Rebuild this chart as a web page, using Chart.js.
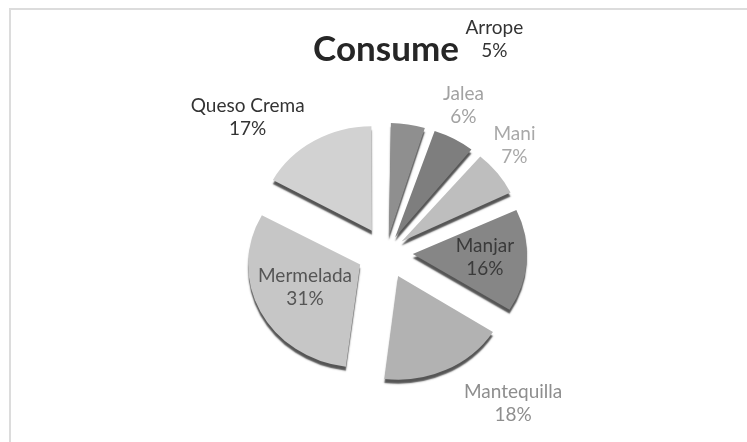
<!DOCTYPE html>
<html>
<head>
<meta charset="utf-8">
<script src="https://cdn.jsdelivr.net/npm/chart.js@4.4.0/dist/chart.umd.min.js"></script>
<style>
  html, body { margin: 0; padding: 0; background: #fff; }
  #wrap { width: 747px; height: 442px; position: relative; }
</style>
</head>
<body>
<div id="wrap"><canvas id="consumeChart"></canvas></div>
<script>
const categories = ["Arrope", "Jalea", "Mani", "Manjar", "Mantequilla", "Mermelada", "Queso Crema"];
const shares = [5, 6, 7, 16, 18, 31, 17];
const sliceColors = ["#8f8f8f", "#7e7e7e", "#bebebe", "#868686", "#b2b2b2", "#c6c6c6", "#d2d2d2"];
const labelColors = ["#333333", "#a2a2a2", "#a8a8a8", "#3a3a3a", "#8e8e8e", "#555555", "#333333"];
// label spot: turn (deg) away from the slice middle, distance in radii
const labelPlacement = [
  { turn: 18, dist: 2.17 },
  { turn: -1, dist: 1.51 },
  { turn: -2, dist: 1.52 },
  { turn: -1, dist: 0.90 },
  { turn: -15, dist: 1.79 },
  { turn: 4, dist: 0.80 },
  { turn: -15, dist: 1.76 }
];
const explode = 31; // px every slice is pulled out

const frame = {
  id: "frame",
  beforeDraw(chart) {
    const ctx = chart.ctx;
    ctx.save();
    ctx.strokeStyle = "#dcdcdc";
    ctx.lineWidth = 2;
    ctx.beginPath();
    ctx.moveTo(10, 442);
    ctx.lineTo(10, 9);
    ctx.lineTo(747, 9);
    ctx.stroke();
    ctx.restore();
  }
};

// flatten the pie a bit and give it a thin dark rim underneath
const tilt = {
  id: "tilt",
  beforeDatasetsDraw(chart) {
    const arc = chart.getDatasetMeta(0).data[0];
    const ctx = chart.ctx;
    ctx.save();
    ctx.translate(arc.x, arc.y);
    ctx.scale(1, 0.92);
    ctx.translate(-arc.x, -arc.y);
    ctx.shadowColor = "rgba(55,55,55,0.85)";
    ctx.shadowOffsetY = 4;
    ctx.shadowBlur = 1.5;
  },
  afterDatasetsDraw(chart) {
    chart.ctx.restore();
  }
};

const sliceLabels = {
  id: "sliceLabels",
  afterDraw(chart) {
    const ctx = chart.ctx;
    const total = shares.reduce((a, b) => a + b, 0);
    ctx.save();
    ctx.font = "19px Lato";
    ctx.textAlign = "center";
    ctx.textBaseline = "middle";
    chart.getDatasetMeta(0).data.forEach((arc, i) => {
      const p = labelPlacement[i];
      const a = (arc.startAngle + arc.endAngle) / 2 + p.turn * Math.PI / 180;
      const d = arc.outerRadius * p.dist;
      const x = arc.x + Math.cos(a) * d;
      const y = arc.y + Math.sin(a) * d;
      ctx.fillStyle = labelColors[i];
      ctx.fillText(categories[i], x, y - 11.5);
      ctx.fillText(Math.round(shares[i] / total * 100) + "%", x, y + 11.5);
    });
    ctx.restore();
  }
};

// Chart.js v4 moves an arc by offset/4 * (2 - sin(angle)); undo that so all slices move the same
function sliceOffset(c) {
  const total = shares.reduce((a, b) => a + b, 0);
  const angle = shares[c.dataIndex] / total * 2 * Math.PI;
  const fix = 1 - Math.sin(Math.min(Math.PI, angle));
  return explode * 4 / (1 + fix);
}

new Chart(document.getElementById("consumeChart"), {
  type: "pie",
  data: {
    labels: categories,
    datasets: [{
      data: shares,
      backgroundColor: sliceColors,
      borderWidth: 0,
      offset: sliceOffset,
      hoverOffset: 0
    }]
  },
  options: {
    responsive: true,
    maintainAspectRatio: false,
    animation: false,
    radius: 110,
    layout: { padding: { left: 25, right: 0, top: 0, bottom: 8 } },
    plugins: {
      legend: { display: false },
      tooltip: { enabled: false },
      title: {
        display: true,
        text: "Consume",
        color: "#262626",
        font: { family: "Lato", size: 35, weight: "bold" },
        padding: { top: 29, bottom: 0 }
      }
    }
  },
  plugins: [frame, tilt, sliceLabels]
});
</script>
</body>
</html>
